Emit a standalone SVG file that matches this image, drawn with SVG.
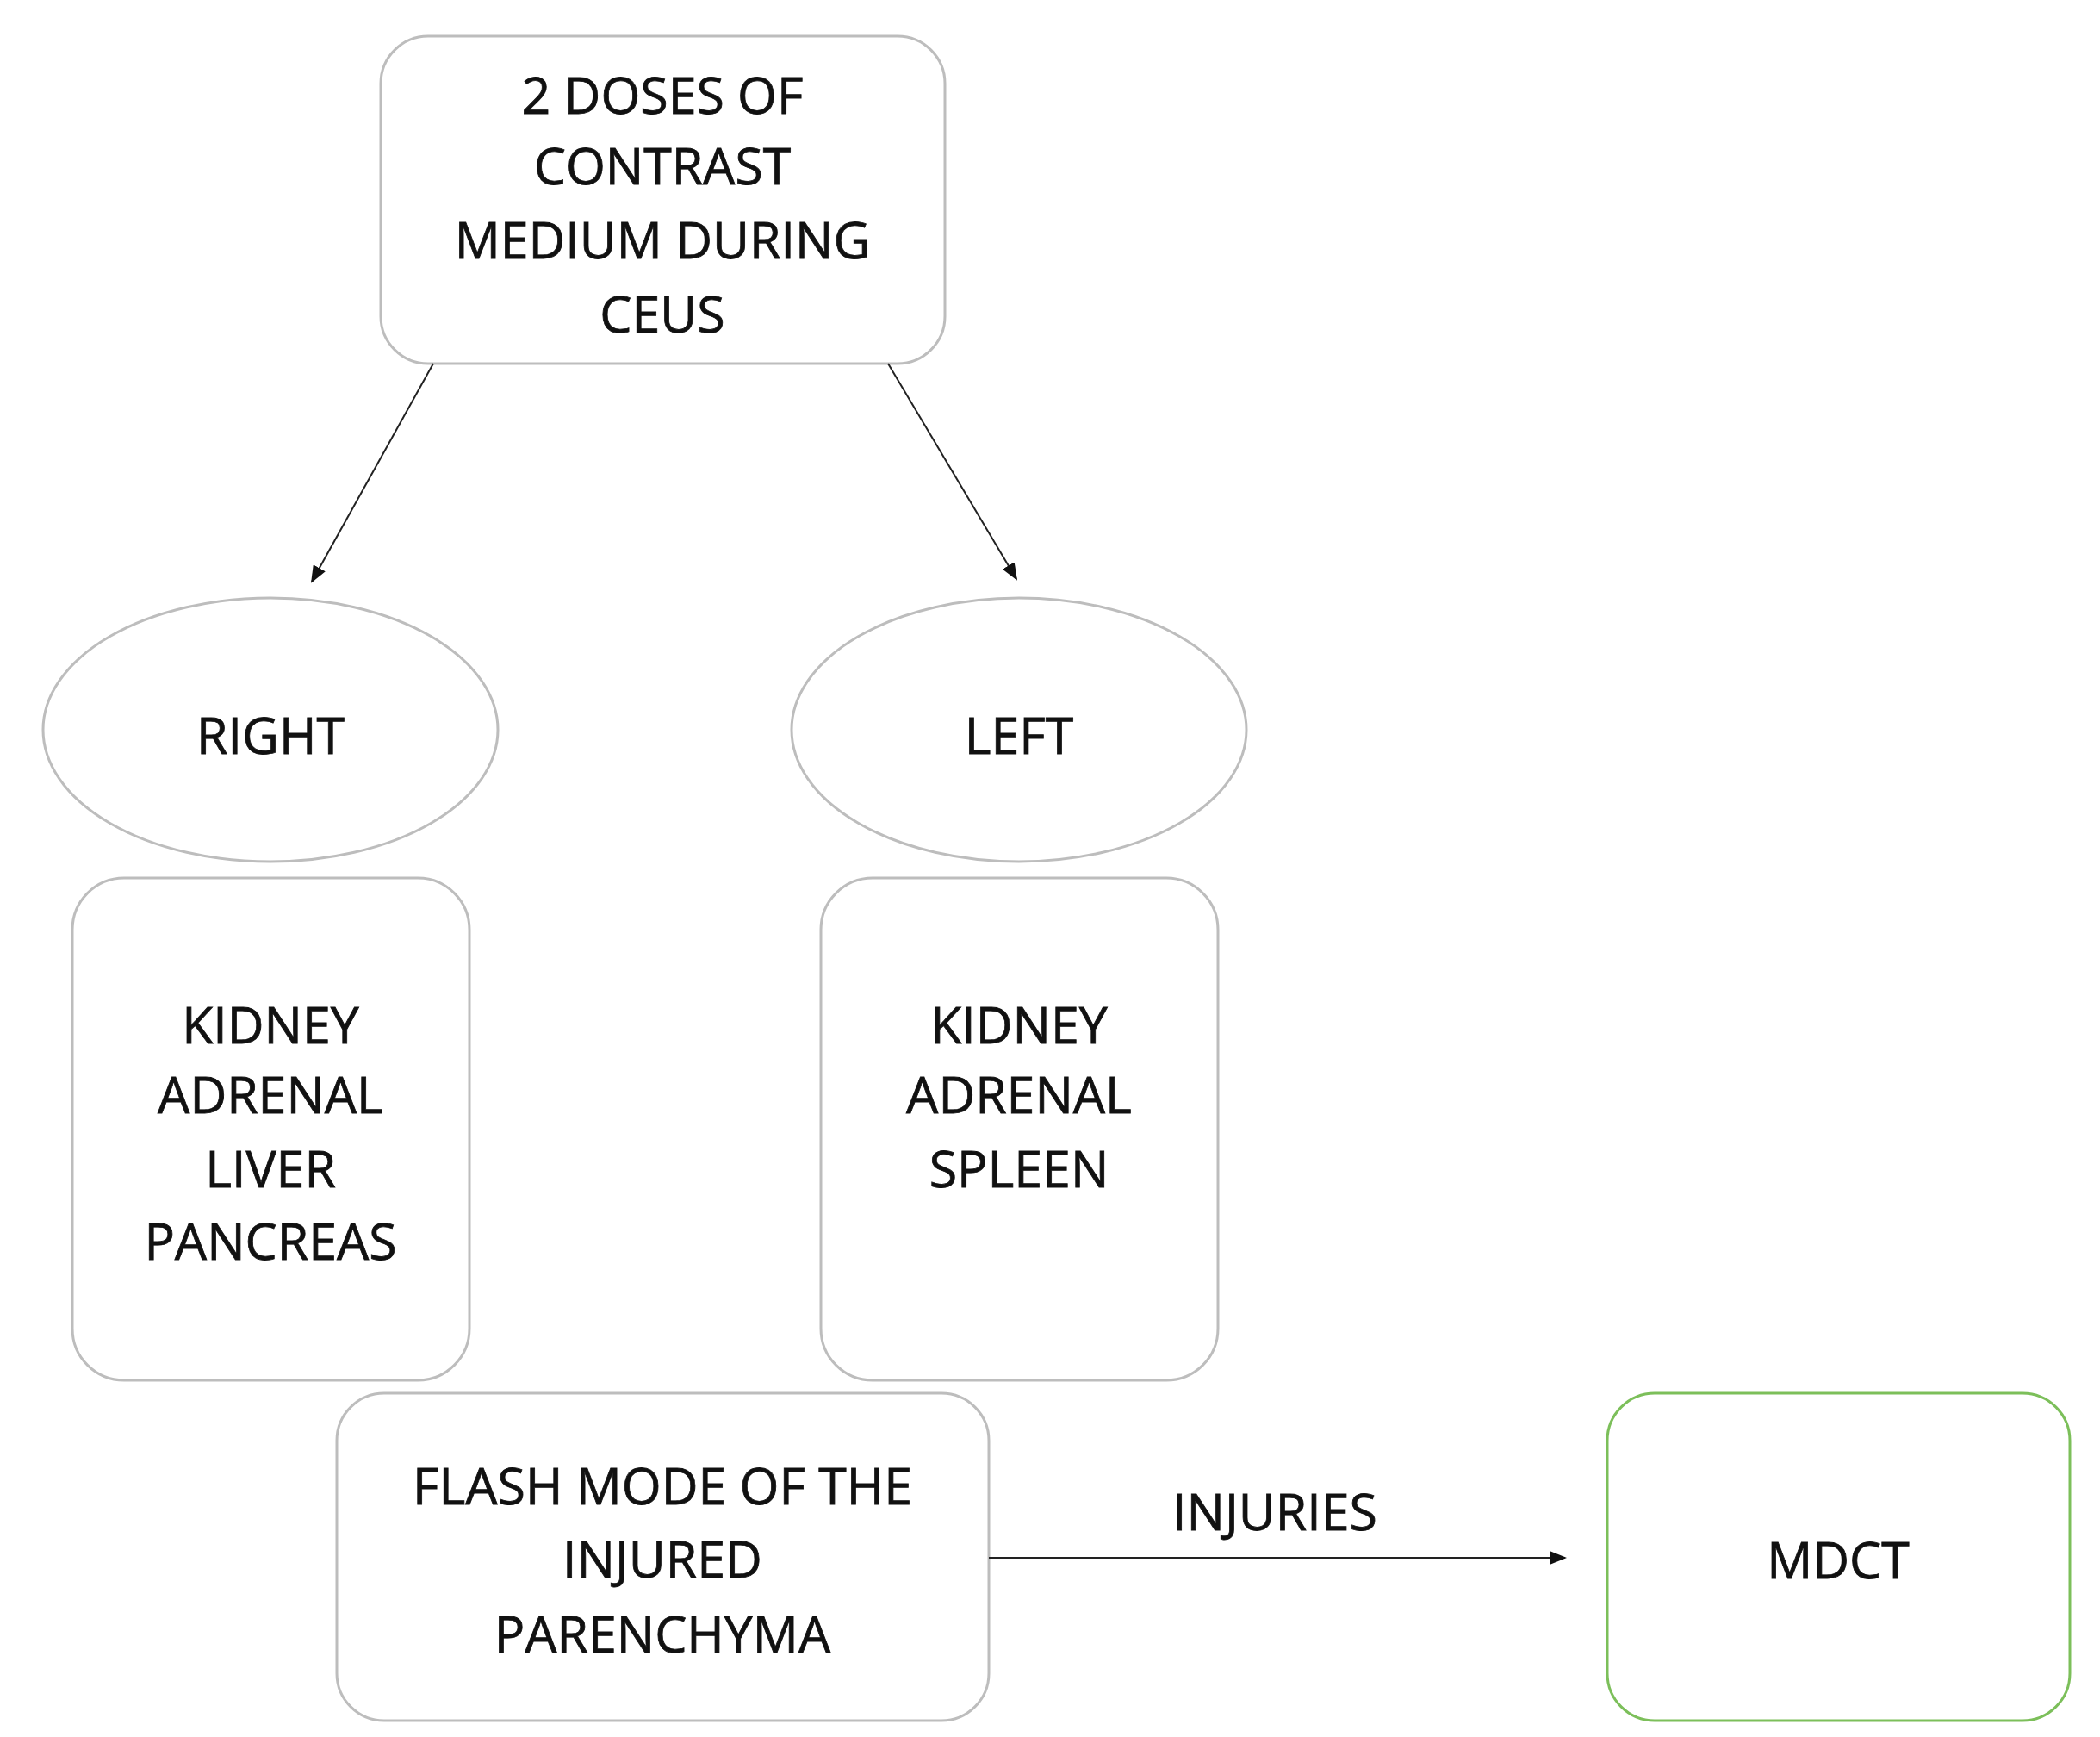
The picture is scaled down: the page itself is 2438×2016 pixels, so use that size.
<svg xmlns="http://www.w3.org/2000/svg" width="2438" height="2016" viewBox="0 0 2438 2016">
<defs>
<style>
.n{fill:#fff;stroke:#bdbdbd;stroke-width:3}
.g{fill:#fff;stroke:#7cbf5a;stroke-width:3}
text{font-family:"Open Sans","Liberation Sans",sans-serif;font-size:59px;fill:#111;stroke:#111;stroke-width:0.8;text-anchor:middle;dominant-baseline:central}
.c{stroke:#222;stroke-width:2;fill:none;marker-end:url(#a)}
</style>
<marker id="a" markerWidth="20" markerHeight="16" refX="18" refY="8" orient="auto" markerUnits="userSpaceOnUse"><path d="M0,0L20,8L0,16z" fill="#111"/></marker>
</defs>
<rect width="2438" height="2016" fill="#fff"/>
<g id="top"><rect class="n" x="442" y="42" width="655" height="380" rx="55"/>
<text x="769" y="109">2 DOSES OF</text><text x="769" y="191">CONTRAST</text><text x="769" y="277">MEDIUM DURING</text><text x="769" y="363">CEUS</text></g>
<g id="right"><ellipse class="n" cx="314" cy="847" rx="264" ry="153"/><text x="314" y="852">RIGHT</text></g>
<g id="left"><ellipse class="n" cx="1183" cy="847" rx="264" ry="153"/><text x="1183" y="852">LEFT</text></g>
<g id="rightlist"><rect class="n" x="84" y="1019" width="461" height="583" rx="60"/>
<text x="314" y="1188">KIDNEY</text><text x="314" y="1269">ADRENAL</text><text x="314" y="1355">LIVER</text><text x="314" y="1439">PANCREAS</text></g>
<g id="leftlist"><rect class="n" x="953" y="1019" width="461" height="583" rx="60"/>
<text x="1183" y="1188">KIDNEY</text><text x="1183" y="1269">ADRENAL</text><text x="1183" y="1355">SPLEEN</text></g>
<g id="flash"><rect class="n" x="391" y="1617" width="757" height="380" rx="55"/>
<text x="769" y="1723">FLASH MODE OF THE</text><text x="769" y="1808">INJURED</text><text x="769" y="1895">PARENCHYMA</text></g>
<g id="mdct"><rect class="g" x="1866" y="1617" width="537" height="380" rx="55"/><text x="2134" y="1809">MDCT</text></g>
<g id="connectors">
<line class="c" x1="503" y1="422" x2="362" y2="675"/>
<line class="c" x1="1031" y1="422" x2="1180" y2="672"/>
<line class="c" x1="1148" y1="1808" x2="1817" y2="1808"/>
<text x="1480" y="1753">INJURIES</text>
</g>
</svg>
